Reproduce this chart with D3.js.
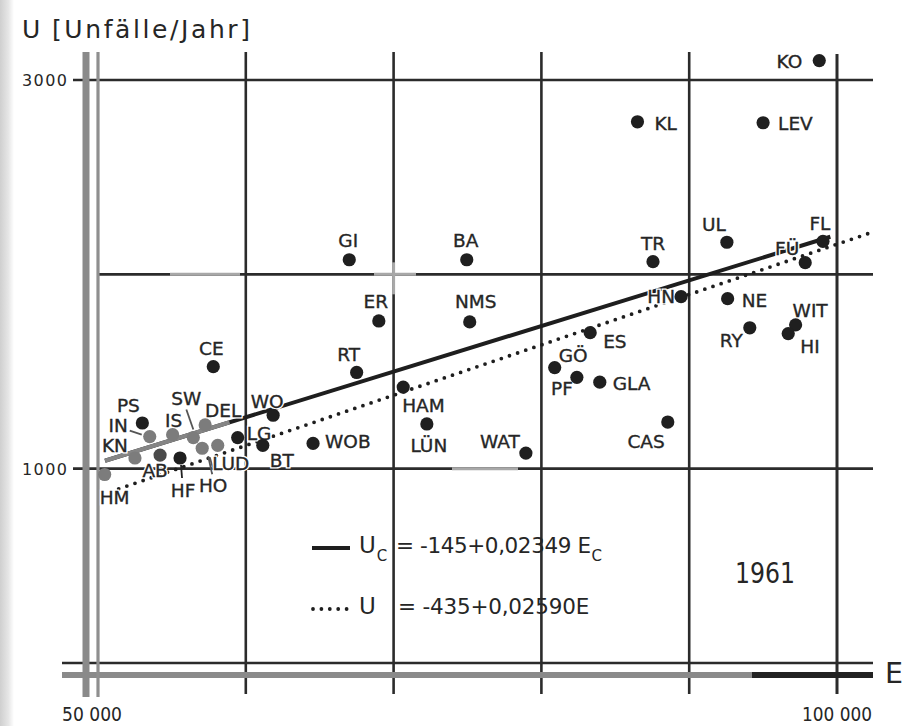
<!DOCTYPE html>
<html>
<head>
<meta charset="utf-8">
<script src="https://cdn.jsdelivr.net/npm/d3@7"></script>
<style>
  html, body { margin: 0; padding: 0; background: #fff; }
  svg { display: block; }
  text { font-family: "DejaVu Sans", "Liberation Sans", sans-serif; fill: #262626; }
</style>
</head>
<body>
<svg id="chart" width="917" height="726"></svg>
<script>
// ---------------- data ----------------
const cities = ["KO","KL","LEV","UL","FL","FÜ","TR","HN","NE","RY","WIT","HI",
  "GI","BA","ER","NMS","RT","HAM","LÜN","WAT","WOB","ES","GÖ","PF","GLA","CAS",
  "CE","WO","PS","IN","IS","SW","DEL","HO","LUD","KN","AB","HF","HM","LG","BT"];
const inhabitants = [98800,86500,95000,92550,99050,97850,87550,89450,92600,94100,97200,96700,
  67000,74950,69000,75150,67500,70650,72250,78950,64550,83300,80900,82400,83950,88550,
  57800,61850,53000,53500,55050,56450,57250,57050,58100,52500,54200,55550,50450,59450,61150];
const accidents = [3100,2785,2780,2165,2170,2060,2065,1885,1875,1725,1740,1695,
  2075,2075,1760,1755,1495,1420,1230,1080,1130,1700,1520,1470,1445,1240,
  1525,1275,1235,1165,1175,1160,1225,1105,1120,1055,1070,1055,970,1160,1120];
const yTickValues = [1000, 3000];
const yTickLabels = ["1000", "3000"];
const yGridValues = [1000, 2000, 3000];
const xTickValues = [50000, 100000];
const xTickLabels = ["50 000", "100 000"];
const xGridValues = [60000, 70000, 80000, 90000, 100000];
// regression lines  U = a + b*E
const regSolid = { a: -145, b: 0.02349, from: 50474, to: 99550 };
const regDotted = { a: -435, b: 0.02590, from: 51400, to: 102450 };
const yearLabel = "1961";

// ---------------- layout / style ----------------
const grayPoints = new Set(["IN","IS","SW","DEL","KN","HO","LUD","HM"]);
const midGrayPoints = new Set(["AB"]);
// label offsets relative to the point: [dx, dy (baseline), anchor]
const labelPos = {
  "KO":[-17,7,"end"], "KL":[17,8,"start"], "LEV":[15,7,"start"], "UL":[-13,-11,"middle"],
  "FL":[-3,-11,"middle"], "FÜ":[-6,-8,"end"], "TR":[0,-12,"middle"], "HN":[-6,6,"end"],
  "NE":[14,8,"start"], "RY":[-7,19,"end"], "WIT":[-3,-8,"start"], "HI":[12,19,"start"],
  "GI":[-1,-13,"middle"], "BA":[-1,-13,"middle"], "ER":[-3,-13,"middle"], "NMS":[6,-14,"middle"],
  "RT":[-8,-11,"middle"], "HAM":[-1,25,"start"], "LÜN":[2,28,"middle"], "WAT":[-6,-5,"end"],
  "WOB":[12,5,"start"], "ES":[13,15,"start"], "GÖ":[4,-6,"start"], "PF":[-4,18,"end"],
  "GLA":[13,8,"start"], "CAS":[-3,26,"end"], "CE":[-2,-12,"middle"], "WO":[-6,-7,"middle"],
  "PS":[-14,-11,"middle"], "IN":[-22,-5,"end"], "IS":[1,-8,"middle"], "SW":[-7,-33,"middle"],
  "DEL":[18,-8,"middle"], "HO":[11,44,"middle"], "LUD":[13,25,"middle"], "KN":[-7,-6,"end"],
  "AB":[-5,22,"middle"], "HF":[3,39,"middle"], "HM":[-5,30,"start"], "LG":[9,2,"start"],
  "BT":[7,22,"start"]
};
const leaders = {
  "IN":[-20,-6,-8,-2], "SW":[-7,-28,0,-8], "HF":[1,7,2,20], "HO":[6,8,10,26], "LUD":[-8,12,-5,22]
};

const svg = d3.select("#chart");
const x = d3.scaleLinear().domain([50000, 100000]).range([98, 837]);
const y = d3.scaleLinear().domain([0, 3000]).range([663, 80]);

const dark = "#2b2b2b", gray = "#8a8a8a";

// scan edge shading
const defs = svg.append("defs");
const lg = defs.append("linearGradient").attr("id","edge").attr("x1",0).attr("x2",1);
lg.append("stop").attr("offset",0).attr("stop-color","#cfcfcf");
lg.append("stop").attr("offset",0.6).attr("stop-color","#e6e6e6");
lg.append("stop").attr("offset",1).attr("stop-color","#ffffff");
svg.append("rect").attr("x",0).attr("y",0).attr("width",14).attr("height",726).attr("fill","url(#edge)");

const g = svg.append("g");

// horizontal gridlines
g.selectAll(".hg").data(yGridValues).enter().append("line")
  .attr("x1", d => yTickValues.includes(d) ? 73 : 98).attr("x2", 873)
  .attr("y1", d => y(d)).attr("y2", d => y(d))
  .attr("stroke", dark).attr("stroke-width", 2.6);

// vertical gridlines
g.selectAll(".vg").data(xGridValues).enter().append("line")
  .attr("x1", d => x(d)).attr("x2", d => x(d))
  .attr("y1", d => d === 100000 ? 54 : 52).attr("y2", 694)
  .attr("stroke", dark).attr("stroke-width", d => d === 100000 ? 3 : 2.6);

// scan wash artifacts
const wash = g.append("g").attr("stroke", "#a8a8a8").attr("stroke-width", 3);
wash.append("line").attr("x1", 170).attr("x2", 240).attr("y1", y(2000)).attr("y2", y(2000));
wash.append("line").attr("x1", 374).attr("x2", 416).attr("y1", y(2000)).attr("y2", y(2000));
wash.append("line").attr("x1", x(70000)).attr("x2", x(70000)).attr("y1", y(2000)-12).attr("y2", y(2000)+20);
wash.append("line").attr("x1", 452).attr("x2", 518).attr("y1", y(1000)).attr("y2", y(1000));

// axes: double lines
g.append("line").attr("x1", 62).attr("x2", 873).attr("y1", y(0)).attr("y2", y(0))
  .attr("stroke", dark).attr("stroke-width", 2.4);
g.append("line").attr("x1", 62).attr("x2", 752).attr("y1", 675).attr("y2", 675)
  .attr("stroke", gray).attr("stroke-width", 6);
g.append("line").attr("x1", 752).attr("x2", 873).attr("y1", 675).attr("y2", 675)
  .attr("stroke", "#222").attr("stroke-width", 6);
g.append("line").attr("x1", 86).attr("x2", 86).attr("y1", 52).attr("y2", 697)
  .attr("stroke", gray).attr("stroke-width", 7);
g.append("line").attr("x1", x(50000)).attr("x2", x(50000)).attr("y1", 52).attr("y2", 697)
  .attr("stroke", "#8f8f8f").attr("stroke-width", 3.2);

// regression lines
function regLine(r) { return [[r.from, r.a + r.b * r.from], [r.to, r.a + r.b * r.to]]; }
const line = d3.line().x(d => x(d[0])).y(d => y(d[1]));
g.append("path").attr("d", line(regLine(regSolid)))
  .attr("stroke", "#1e1e1e").attr("stroke-width", 4).attr("fill", "none");
g.append("path").attr("d", line(regLine({a: regSolid.a, b: regSolid.b, from: regSolid.from, to: 58900})))
  .attr("stroke", "#858585").attr("stroke-width", 4.2).attr("fill", "none");
g.append("path").attr("d", line(regLine(regDotted)))
  .attr("stroke", "#1e1e1e").attr("stroke-width", 3.8).attr("fill", "none")
  .attr("stroke-linecap", "round").attr("stroke-dasharray", "0 8.6");

// points data
const pts = cities.map((c, i) => ({ name: c, E: inhabitants[i], U: accidents[i] }));

// leaders
g.selectAll(".ld").data(pts.filter(d => leaders[d.name])).enter().append("line")
  .attr("x1", d => x(d.E) + leaders[d.name][0]).attr("y1", d => y(d.U) + leaders[d.name][1])
  .attr("x2", d => x(d.E) + leaders[d.name][2]).attr("y2", d => y(d.U) + leaders[d.name][3])
  .attr("stroke", d => grayPoints.has(d.name) ? "#555" : "#222").attr("stroke-width", 1.8);

// label halos (knock out lines behind), then labels
const lblSel = [g.append("g"), g.append("g")];
lblSel.forEach((layer, k) => {
  layer.selectAll("text").data(pts).enter().append("text")
    .attr("x", d => x(d.E) + labelPos[d.name][0])
    .attr("y", d => y(d.U) + labelPos[d.name][1])
    .attr("text-anchor", d => labelPos[d.name][2])
    .attr("font-size", 18.5)
    .attr("stroke", k === 0 ? "#fff" : "#262626")
    .attr("stroke-width", k === 0 ? 3 : 0.35)
    .style("fill", k === 0 ? "#fff" : "#262626")
    .text(d => d.name);
});

// dots
g.selectAll(".pt").data(pts).enter().append("circle")
  .attr("cx", d => x(d.E)).attr("cy", d => y(d.U)).attr("r", 6.6)
  .attr("fill", d => grayPoints.has(d.name) ? "#7c7c7c" : (midGrayPoints.has(d.name) ? "#4a4a4a" : "#1f1f1f"));

// tick labels
g.selectAll(".yt").data(yTickValues).enter().append("text")
  .attr("x", 67).attr("y", d => y(d) + 6)
  .attr("text-anchor", "end").attr("font-size", 16)
  .attr("textLength", 45).attr("lengthAdjust", "spacing")
  .text((d, i) => yTickLabels[i]);
g.selectAll(".xt").data(xTickValues).enter().append("text")
  .attr("x", (d, i) => x(d) + (i === 0 ? -36 : -35)).attr("y", 721)
  .attr("font-size", 19)
  .attr("textLength", (d, i) => i === 0 ? 60 : 70).attr("lengthAdjust", "spacingAndGlyphs")
  .text((d, i) => xTickLabels[i]);

// axis titles
svg.append("text").attr("x", 22).attr("y", 38).attr("font-size", 25).text("U");
svg.append("text").attr("x", 52).attr("y", 38).attr("font-size", 25)
  .attr("textLength", 198).attr("lengthAdjust", "spacing").text("[Unfälle/Jahr]");
svg.append("text").attr("x", 885).attr("y", 683).attr("font-size", 29)
  .attr("textLength", 18).attr("lengthAdjust", "spacingAndGlyphs").text("E");

// legend
svg.append("line").attr("x1", 312).attr("x2", 350).attr("y1", 548).attr("y2", 548)
  .attr("stroke", "#1e1e1e").attr("stroke-width", 4);
svg.append("line").attr("x1", 313).attr("x2", 350).attr("y1", 609).attr("y2", 609)
  .attr("stroke", "#1e1e1e").attr("stroke-width", 3.8)
  .attr("stroke-linecap", "round").attr("stroke-dasharray", "0 8.4");
const l1 = svg.append("text").attr("x", 359).attr("y", 553).attr("font-size", 23);
l1.append("tspan").text("U");
l1.append("tspan").attr("font-size", 15).attr("dy", 8).attr("dx", 1).text("C");
l1.append("tspan").attr("dy", -8).attr("x", 396).attr("font-size", 21.5)
  .attr("letter-spacing", -0.4).text("= -145+0,02349 E");
l1.append("tspan").attr("font-size", 15).attr("dy", 8).attr("dx", 1).text("C");
const l2 = svg.append("text").attr("x", 359).attr("y", 614).attr("font-size", 23);
l2.append("tspan").text("U");
l2.append("tspan").attr("x", 398).attr("font-size", 21.5)
  .attr("letter-spacing", -0.2).text("= -435+0,02590E");

// year
svg.append("text").attr("x", 735).attr("y", 583).attr("font-size", 28)
  .attr("textLength", 60).attr("lengthAdjust", "spacingAndGlyphs").text(yearLabel);
</script>
</body>
</html>
